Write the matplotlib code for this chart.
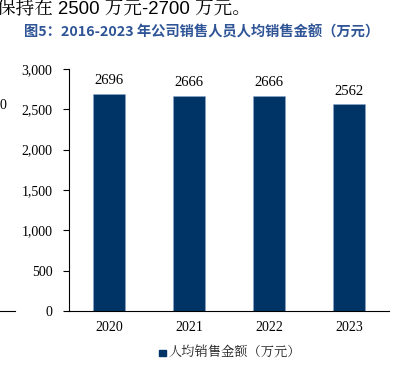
import matplotlib
matplotlib.use("Agg")
import matplotlib.pyplot as plt
from matplotlib.lines import Line2D
from matplotlib.patches import Rectangle

years = ["2020", "2021", "2022", "2023"]
values = [2696, 2666, 2666, 2562]
yticks = [0, 500, 1000, 1500, 2000, 2500, 3000]
title = "图5：2016-2023 年公司销售人员人均销售金额（万元）"
legend_label = "人均销售金额（万元）"
top_text = "保持在 2500 万元-2700 万元。"

bar_color = "#003366"
title_color = "#2F5597"
serif = ["Liberation Serif", "DejaVu Serif"]
cjk = ["Noto Sans CJK SC", "DejaVu Sans"]

fig = plt.figure(figsize=(4.04, 3.80), dpi=100)
ax = fig.add_axes([69/404, (380-311)/380, 320/404, 242/380])

x = list(range(len(years)))
bars = ax.bar(x, values, width=0.41, color=bar_color, edgecolor="#8FA8C8", linewidth=0.4)
for xi, v in zip(x, values):
    ax.text(xi, v + 80, str(v), ha="center", va="bottom", fontsize=10.5, family=serif)

ax.set_xlim(-0.5, len(years) - 0.5)
ax.set_ylim(0, 3000)
ax.set_yticks(yticks)
ax.set_yticklabels([f"{t:,}" for t in yticks], family=serif, fontsize=10)
ax.set_xticks(x)
ax.set_xticklabels(years, family=serif, fontsize=10)
ax.tick_params(axis="y", direction="out", length=4, width=0.8, pad=8)
ax.tick_params(axis="x", length=0, pad=7)
for s in ["top", "right"]:
    ax.spines[s].set_visible(False)
ax.spines["left"].set_linewidth(0.8)
ax.spines["bottom"].set_linewidth(0.8)

# title and surrounding text
fig.text(24/404, 1 - 32/380, title, ha="left", va="center", fontsize=10.3,
         fontweight="bold", color=title_color, family=cjk)
fig.text(-3/404, 1 - 8/380, top_text, ha="left", va="center", fontsize=13.4,
         color="black", family=["Liberation Sans", "Noto Serif CJK SC", "Noto Sans CJK SC"])

# legend
fig.patches.append(Rectangle((159/404, 1 - 356/380), 6.5/404, 6.5/380,
                             transform=fig.transFigure, color=bar_color))
fig.text(168/404, 1 - 353/380, legend_label, ha="left", va="center", fontsize=9.5,
         color="#222222", family=["Noto Serif CJK SC", "Noto Sans CJK SC", "DejaVu Sans"])

# fragment of neighbouring chart at left edge
fig.text(0, 1 - 105/380, "0", ha="left", va="center", fontsize=10, family=serif)
fig.lines.append(Line2D([0, 15/404], [1 - 311/380, 1 - 311/380],
                        transform=fig.transFigure, color="black", linewidth=0.8))

fig.savefig("out.png", dpi=100)
